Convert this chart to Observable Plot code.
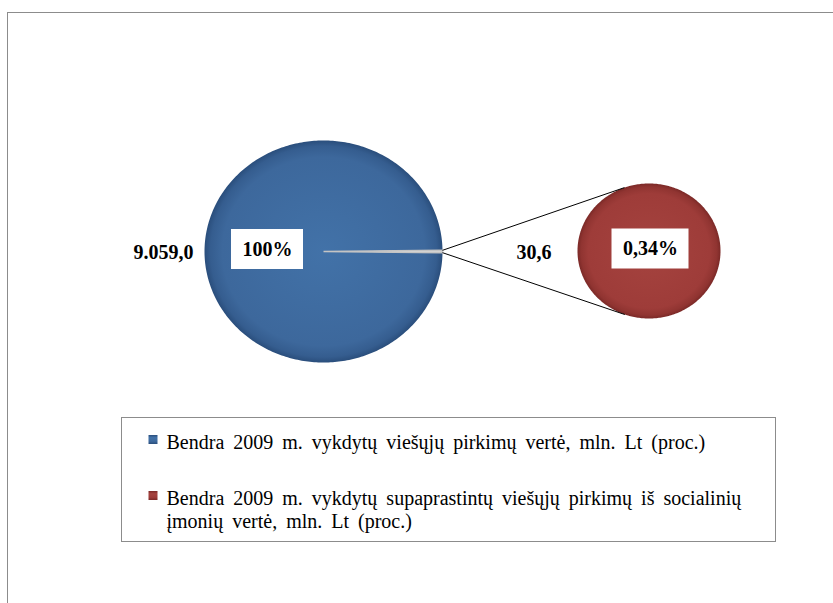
<!DOCTYPE html>
<html><head><meta charset="utf-8">
<script src="https://cdn.jsdelivr.net/npm/d3@7"></script>
<script src="https://cdn.jsdelivr.net/npm/@observablehq/plot@0.6"></script>
<style>
html,body{margin:0;padding:0;background:#fff;overflow:hidden;}
#wrap{position:relative;width:833px;height:603px;}
#frame{position:absolute;left:7px;top:12px;width:900px;height:700px;border-left:1px solid #8c8c8c;border-top:1px solid #8c8c8c;}
#chart{position:absolute;left:0;top:0;}
#chart svg text{word-spacing:4px;}
</style></head><body>
<div id="wrap"><div id="frame"></div><div id="chart"></div></div>
<script>
// ---- data ----
const seriesLabels = [
  "Bendra 2009 m. vykdytų viešųjų pirkimų vertė, mln. Lt (proc.)",
  "Bendra 2009 m. vykdytų supaprastintų viešųjų pirkimų iš socialinių įmonių vertė, mln. Lt (proc.)"
];
const values = [9059.0, 30.6];
const valueLabels = ["9.059,0", "30,6"];
const percentLabels = ["100%", "0,34%"];

// ---- layout / style ----
const L = {
  primary: {cx: 323, cy: 251, rx: 119, ry: 111},
  secondary: {cx: 648.5, cy: 250.5, rx: 71.5, ry: 67.5},
  primaryLabel: {dx: -56, dy: -2},
  secondaryLabel: {dx: 1.5, dy: -2},
  valueGap: 11,
  boxPadX: 11, boxH: 40,
  legend: {x1: 121.5, y1: 417.5, x2: 775.5, y2: 541.5, markerX: 153, markerSize: 9, markerDy: -2.5,
           textX: 166, firstY: 442, lineH: 23, groupGap: 56, maxW: 600, fontSize: 20, wordSpacing: 4},
  font: "'Liberation Serif', 'Times New Roman', serif"
};
const colors = {blue: ["#4272a8", "#3d689c", "#355d8f", "#2a4e7c"], red: ["#a5433f", "#9e3c39", "#903431", "#7b2927"]};

const ctx = document.createElement("canvas").getContext("2d");
function textW(s, font) { ctx.font = font; return ctx.measureText(s).width; }

function slicePts(c, a0, a1, id) {
  const n = Math.max(2, Math.ceil(Math.abs(a1 - a0) / (Math.PI / 180)));
  const pts = [];
  const full = Math.abs(a1 - a0) >= 2 * Math.PI - 1e-9;
  if (!full) pts.push({x: c.cx, y: c.cy, id});
  for (let i = 0; i <= n; i++) {
    const a = a0 + (a1 - a0) * i / n;
    pts.push({x: c.cx + c.rx * Math.sin(a), y: c.cy - c.ry * Math.cos(a), id});
  }
  return pts;
}

// primary pie: main value + "other" (the secondary series) centred at 3 o'clock
const total = d3.sum(values);
const half = Math.PI * values[1] / total;
const pie = d3.pie().sort(null).startAngle(Math.PI / 2 + half).endAngle(Math.PI / 2 + half + 2 * Math.PI);
const arcs = pie(values);
const P = L.primary, S = L.secondary;
const mainPts = slicePts(P, arcs[0].startAngle, arcs[0].endAngle, "main");
const otherPts = slicePts(P, arcs[1].startAngle, arcs[1].endAngle, "other");
const secArcs = d3.pie().sort(null)([values[1]]);
const secPts = slicePts(S, secArcs[0].startAngle, secArcs[0].endAngle, "sec");

// connectors: from edges of "other" slice to tangent points on secondary ellipse
function tangent(px, py, sign) {
  const u = (px - S.cx) / S.rx, v = (py - S.cy) / S.ry;
  const d = Math.hypot(u, v);
  const a = Math.atan2(v, u) + sign * Math.acos(1 / d);
  return {x: S.cx + S.rx * Math.cos(a), y: S.cy + S.ry * Math.sin(a)};
}
const eTop = {x: P.cx + P.rx * Math.sin(arcs[1].startAngle), y: P.cy - P.ry * Math.cos(arcs[1].startAngle)};
const eBot = {x: P.cx + P.rx * Math.sin(arcs[1].endAngle), y: P.cy - P.ry * Math.cos(arcs[1].endAngle)};
const tA = tangent(eTop.x, eTop.y, 1), tB = tangent(eBot.x, eBot.y, -1);
const tUp = tA.y < tB.y ? tA : tB, tDn = tA.y < tB.y ? tB : tA;
const connectors = [
  {x1: Math.min(eTop.x, eBot.x), y1: Math.min(eTop.y, eBot.y), x2: tUp.x, y2: tUp.y},
  {x1: Math.min(eTop.x, eBot.x), y1: Math.max(eTop.y, eBot.y), x2: tDn.x, y2: tDn.y}
];

// labels
const boldFont = `bold 20px ${L.font}`;
const pctPos = [
  {x: P.cx + L.primaryLabel.dx, y: P.cy + L.primaryLabel.dy, t: percentLabels[0]},
  {x: S.cx + L.secondaryLabel.dx, y: S.cy + L.secondaryLabel.dy, t: percentLabels[1]}
];
const boxes = pctPos.map(p => {
  const w = textW(p.t, boldFont) + 2 * L.boxPadX;
  return {x1: p.x - w / 2, x2: p.x + w / 2, y1: p.y - L.boxH / 2, y2: p.y + L.boxH / 2};
});
const valLeft = [{x: P.cx - P.rx - L.valueGap, y: P.cy + 1, t: valueLabels[0]}];
const valMid = [{x: (P.cx + P.rx + S.cx - S.rx) / 2 + 24, y: P.cy + 1, t: valueLabels[1]}];

// legend (wrapped by measured width)
const lg = L.legend;
const legFont = `${lg.fontSize}px ${L.font}`;
const measure = s => textW(s, legFont) + (s.split(" ").length - 1) * lg.wordSpacing;
const legLines = [], legMarkers = [];
seriesLabels.forEach((lab, i) => {
  const lines = []; let cur = "";
  for (const w of lab.split(" ")) {
    const t = cur ? cur + " " + w : w;
    if (measure(t) > lg.maxW && cur) { lines.push(cur); cur = w; } else cur = t;
  }
  lines.push(cur);
  const y0 = lg.firstY + i * lg.groupGap;
  lines.forEach((t, k) => legLines.push({x: lg.textX, y: y0 + k * lg.lineH, t}));
  const my = y0 + lg.markerDy;
  legMarkers.push({x1: lg.markerX - lg.markerSize / 2, x2: lg.markerX + lg.markerSize / 2,
                   y1: my - lg.markerSize / 2, y2: my + lg.markerSize / 2});
});

const chart = Plot.plot({
  width: 833, height: 603, margin: 0,
  x: {domain: [0, 833], range: [0, 833], axis: null},
  y: {domain: [0, 603], range: [0, 603], axis: null},
  style: {background: "transparent", overflow: "visible"},
  marks: [
    Plot.line(mainPts, {x: "x", y: "y", fill: "url(#gB)", stroke: "none", curve: "linear-closed"}),
    Plot.line(otherPts, {x: "x", y: "y", fill: "#ffffff", stroke: "#c4c4c4", strokeWidth: 1.6, strokeLinejoin: "miter", curve: "linear-closed"}),
    Plot.line(secPts, {x: "x", y: "y", fill: "url(#gR)", stroke: "none", curve: "linear-closed"}),
    Plot.link(connectors, {x1: "x1", y1: "y1", x2: "x2", y2: "y2", stroke: "#000", strokeWidth: 1}),
    Plot.rect(boxes, {x1: "x1", x2: "x2", y1: "y1", y2: "y2", fill: "#fff"}),
    Plot.text(pctPos, {x: "x", y: "y", text: "t", fontFamily: L.font, fontSize: 20, fontWeight: "bold", fill: "#000"}),
    Plot.text(valLeft, {x: "x", y: "y", text: "t", textAnchor: "end", fontFamily: L.font, fontSize: 20, fontWeight: "bold", fill: "#000"}),
    Plot.text(valMid, {x: "x", y: "y", text: "t", textAnchor: "middle", fontFamily: L.font, fontSize: 20, fontWeight: "bold", fill: "#000"}),
    Plot.rect([lg], {x1: "x1", x2: "x2", y1: "y1", y2: "y2", fill: "none", stroke: "#8c8c8c", strokeWidth: 1}),
    Plot.rect(legMarkers.slice(0, 1), {x1: "x1", x2: "x2", y1: "y1", y2: "y2", fill: "url(#gBs)"}),
    Plot.rect(legMarkers.slice(1), {x1: "x1", x2: "x2", y1: "y1", y2: "y2", fill: "url(#gRs)"}),
    Plot.text(legLines, {x: "x", y: "y", text: "t", textAnchor: "start", fontFamily: L.font, fontSize: lg.fontSize, fill: "#000"})
  ]
});

// gradients (bevel look)
const svg = d3.select(chart);
const defs = svg.insert("defs", ":first-child");
function radial(id, c) {
  const g = defs.append("radialGradient").attr("id", id).attr("cx", "50%").attr("cy", "50%").attr("r", "50%");
  [[0, c[0]], [0.85, c[1]], [0.95, c[2]], [1, c[3]]].forEach(([o, col]) => g.append("stop").attr("offset", o).attr("stop-color", col));
}
function linear(id, c) {
  const g = defs.append("linearGradient").attr("id", id).attr("x1", 0).attr("y1", 0).attr("x2", 0).attr("y2", 1);
  [[0, c[3]], [0.3, c[0]], [0.7, c[1]], [1, c[3]]].forEach(([o, col]) => g.append("stop").attr("offset", o).attr("stop-color", col));
}
radial("gB", colors.blue); radial("gR", colors.red);
linear("gBs", colors.blue); linear("gRs", colors.red);
document.getElementById("chart").appendChild(chart);
</script>
</body></html>
